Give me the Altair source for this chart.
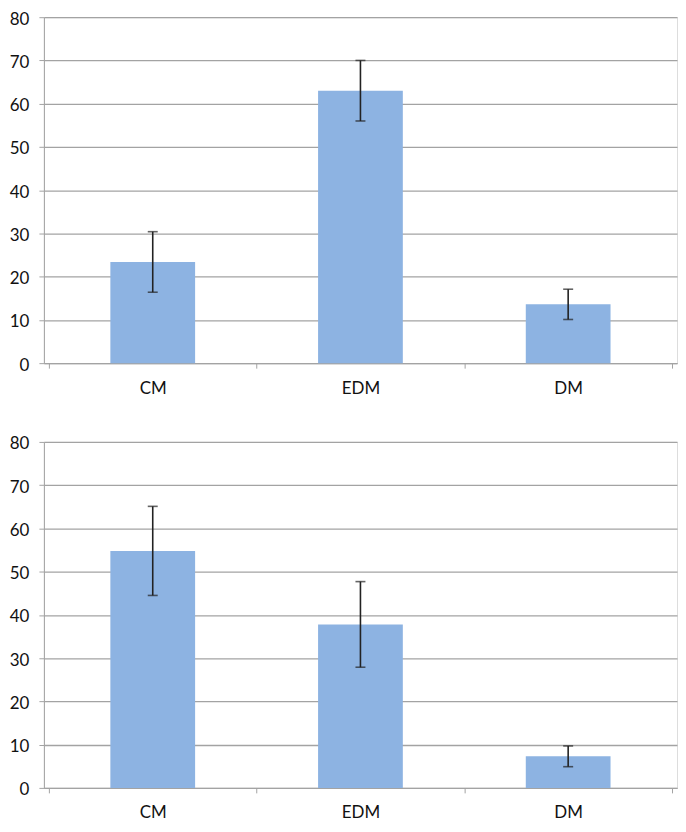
import json
import altair as alt
import pandas as pd

categories = ["CM", "EDM", "DM"]
top_values = [23.4, 63.0, 13.6]
top_errors = [7.0, 7.0, 3.5]
bottom_values = [54.8, 37.8, 7.3]
bottom_errors = [10.3, 9.9, 2.4]
y_ticks = [0, 10, 20, 30, 40, 50, 60, 70, 80]

FONT = "Lato"
BAR = "#8db3e2"
GRID = "#a3a3a3"

cat_json = json.dumps(categories)
label_expr = f"datum.value % 1 === 0 ? '' : {cat_json}[floor(datum.value)]"


def panel(values, errors):
    df = pd.DataFrame({
        "cat": categories,
        "pos": [i + 0.5 for i in range(len(categories))],
        "val": values,
        "err": errors,
    })
    df["lo"] = df["val"] - df["err"]
    df["hi"] = df["val"] + df["err"]

    x = alt.X(
        "pos:Q",
        scale=alt.Scale(domain=[0, len(categories)], nice=False, zero=False),
        axis=alt.Axis(
            values=[i * 0.5 for i in range(2 * len(categories) + 1)],
            labelExpr=label_expr,
            title=None,
            grid=False,
            domainColor=GRID,
            tickColor=GRID,
            tickSize=5,
            tickOpacity={"condition": {"test": "datum.value % 1 === 0", "value": 1}, "value": 0},
            labelPadding=12,
            labelFont=FONT,
            labelFontSize=17,
            labelColor="#111111",
        ),
    )
    y = alt.Y(
        "val:Q",
        scale=alt.Scale(domain=[0, 80], nice=False),
        axis=alt.Axis(
            values=y_ticks,
            title=None,
            grid=True,
            gridColor=GRID,
            gridWidth=1.3,
            domainColor=GRID,
            tickColor=GRID,
            tickSize=5,
            labelPadding=10,
            labelOffset=2,
            labelFont=FONT,
            labelFontSize=17,
            labelColor="#111111",
        ),
    )
    base = alt.Chart(df)
    bars = base.mark_bar(color=BAR, size=85).encode(x=x, y=y)
    rule = base.mark_rule(color="#222222", strokeWidth=1.6).encode(
        x="pos:Q", y="lo:Q", y2="hi:Q"
    )
    cap_hi = base.mark_tick(color="#222222", orient="horizontal", size=10, thickness=1.6).encode(
        x="pos:Q", y="hi:Q"
    )
    cap_lo = base.mark_tick(color="#222222", orient="horizontal", size=10, thickness=1.6).encode(
        x="pos:Q", y="lo:Q"
    )
    return alt.layer(bars, rule, cap_hi, cap_lo).properties(width=635, height=347)


chart = alt.vconcat(
    panel(top_values, top_errors),
    panel(bottom_values, bottom_errors),
    spacing=37,
).properties(
    padding={"left": 0, "top": 0, "right": 0, "bottom": 0}
).configure_view(stroke=None).configure(background="white")

chart.save("out.html", embed_options={"renderer": "svg", "actions": False})
